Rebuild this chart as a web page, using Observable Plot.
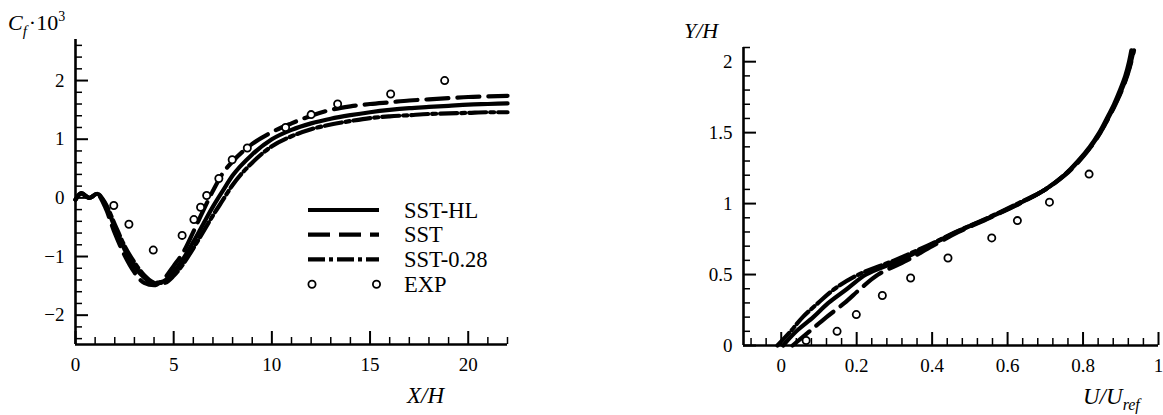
<!DOCTYPE html>
<html><head><meta charset="utf-8">
<script src="https://cdn.jsdelivr.net/npm/d3@7"></script>
<script src="https://cdn.jsdelivr.net/npm/@observablehq/plot@0.6"></script>
<style>
body{margin:0;background:#fff;}
#wrap{position:relative;width:1163px;height:415px;overflow:hidden;background:#fff;font-family:"Liberation Serif","Times New Roman",serif;}
#wrap > svg{position:absolute;top:0;}
#wrap svg text{font-family:"Liberation Serif","Times New Roman",serif;}
</style></head><body><div id="wrap"></div>
<script>
// ---------- Left panel: skin friction ----------
const xLeft   = [0,0.3,0.7,1.1,1.5,2,2.5,3,3.5,4,4.5,5,5.5,6,6.5,7,7.5,8,9,10,11,12,13,14,15,16,17,18,19,20,21,22];
const cfSSTHL = [-0.03,0.08,0.0,0.07,-0.1,-0.5,-0.88,-1.17,-1.36,-1.46,-1.42,-1.26,-1.03,-0.75,-0.45,-0.15,0.12,0.38,0.74,1.0,1.16,1.27,1.35,1.41,1.46,1.5,1.53,1.55,1.57,1.59,1.6,1.61];
const cfSST   = [-0.03,0.08,0.0,0.06,-0.15,-0.6,-0.98,-1.27,-1.45,-1.49,-1.38,-1.16,-0.92,-0.58,-0.22,0.12,0.42,0.62,0.92,1.12,1.27,1.4,1.5,1.56,1.6,1.63,1.66,1.68,1.7,1.72,1.73,1.74];
const cfSST028= [-0.03,0.07,0.0,0.07,-0.08,-0.45,-0.82,-1.1,-1.32,-1.44,-1.45,-1.33,-1.12,-0.86,-0.58,-0.3,-0.04,0.22,0.6,0.88,1.05,1.17,1.25,1.31,1.36,1.39,1.41,1.43,1.44,1.45,1.46,1.46];
const expXL   = [1.95,2.72,3.96,5.43,6.03,6.37,6.68,7.3,7.98,8.75,10.7,12.0,13.35,16.05,18.8];
const expCf   = [-0.13,-0.45,-0.89,-0.64,-0.37,-0.16,0.04,0.33,0.65,0.85,1.2,1.42,1.6,1.77,2.0];
const xMajorL = [0,5,10,15,20];
const xMinorL = [1,2,3,4,6,7,8,9,11,12,13,14,16,17,18,19,21,22];
const yMajorL = [-2,-1,0,1,2];
const yMinorL = [-2.4,-2.2,-1.8,-1.6,-1.4,-1.2,-0.8,-0.6,-0.4,-0.2,0.2,0.4,0.6,0.8,1.2,1.4,1.6,1.8,2.2,2.4,2.6];

// ---------- Right panel: velocity profile ----------
const yProf   = [0,0.1,0.2,0.3,0.4,0.5,0.6,0.7,0.8,0.9,1.0,1.1,1.2,1.3,1.4,1.5,1.6,1.7,1.8,1.9,2.0,2.08];
const uSSTHL  = [0.005,0.04,0.085,0.125,0.175,0.225,0.315,0.39,0.465,0.55,0.63,0.70,0.75,0.787,0.818,0.843,0.863,0.882,0.898,0.912,0.922,0.928];
const uSST    = [0.03,0.075,0.12,0.168,0.21,0.257,0.333,0.40,0.47,0.553,0.632,0.70,0.752,0.79,0.821,0.846,0.867,0.886,0.903,0.917,0.928,0.935];
const uSST028 = [-0.01,0.025,0.057,0.098,0.142,0.205,0.3,0.385,0.463,0.548,0.627,0.70,0.75,0.788,0.82,0.845,0.866,0.885,0.902,0.916,0.927,0.934];
const expU    = [0.066,0.148,0.199,0.268,0.343,0.442,0.558,0.626,0.711,0.816];
const expY    = [0.035,0.1,0.218,0.352,0.476,0.617,0.758,0.88,1.01,1.208];
const xMajorR = [0,0.2,0.4,0.6,0.8,1];
const xMinorR = [-0.08,-0.04,0.04,0.08,0.12,0.16,0.24,0.28,0.32,0.36,0.44,0.48,0.52,0.56,0.64,0.68,0.72,0.76,0.84,0.88,0.92,0.96];
const yMajorR = [0,0.5,1,1.5,2];
const yMinorR = [0.1,0.2,0.3,0.4,0.6,0.7,0.8,0.9,1.1,1.2,1.3,1.4,1.6,1.7,1.8,1.9,2.1];

const seriesNames = ["SST-HL","SST","SST-0.28","EXP"];
const dashes = {"SST-HL": null, "SST": "22,9", "SST-0.28": "17,4,4,4"};
const LW = 4.2;
const fmt = d => String(d).replace("-", "\u2212");

const wrap = document.getElementById("wrap");
const style = {fontFamily:'"Liberation Serif","Times New Roman",serif', fontSize:"19px", color:"black", background:"transparent", overflow:"visible"};

function axesMarks(xMaj, xMin, yMaj, yMin, x0, y0) {
  return [
    Plot.axisX({ticks:xMaj, tickSize:-13, tickPadding:26, strokeWidth:2, label:null, tickFormat:fmt}),
    Plot.axisX({ticks:xMin, tickSize:-7, strokeWidth:1.5, fill:"none", label:null}),
    Plot.axisY({ticks:yMaj, tickSize:-13, tickPadding:24, strokeWidth:2, label:null, tickFormat:fmt}),
    Plot.axisY({ticks:yMin, tickSize:-7, strokeWidth:1.5, fill:"none", label:null}),
    Plot.ruleX([x0], {stroke:"black", strokeWidth:2.6}),
    Plot.ruleY([y0], {stroke:"black", strokeWidth:2.6})
  ];
}

const leftSeries = [[cfSSTHL,"SST-HL"],[cfSST,"SST"],[cfSST028,"SST-0.28"]];
const left = Plot.plot({
  width:580, height:415, marginLeft:75, marginRight:73, marginTop:39, marginBottom:71,
  x:{domain:[0,22]}, y:{domain:[-2.5,2.7]},
  style,
  marks:[
    ...axesMarks(xMajorL, xMinorL, yMajorL, yMinorL, 0, -2.5),
    ...leftSeries.map(([vals,name]) => Plot.line(xLeft.map((x,i)=>({x, v:vals[i]})), {
      x:"x", y:"v", stroke:"black", strokeWidth:LW, curve:"monotone-x", strokeDasharray:dashes[name] || undefined
    })),
    Plot.dot(expXL.map((x,i)=>({x, v:expCf[i]})), {x:"x", y:"v", r:3.6, stroke:"black", strokeWidth:1.8, fill:"white"})
  ]
});
left.style.left = "0px";
wrap.appendChild(left);

const rightSeries = [[uSSTHL,"SST-HL"],[uSST,"SST"],[uSST028,"SST-0.28"]];
const right = Plot.plot({
  width:583, height:415, marginLeft:163, marginRight:5, marginTop:47, marginBottom:70,
  x:{domain:[-0.1,1]}, y:{domain:[0,2.1]},
  style,
  marks:[
    ...axesMarks(xMajorR, xMinorR, yMajorR, yMinorR, -0.1, 0),
    ...rightSeries.map(([vals,name]) => Plot.line(yProf.map((y,i)=>({u:vals[i], y})), {
      x:"u", y:"y", stroke:"black", strokeWidth:LW, curve:"catmull-rom", strokeDasharray:dashes[name] || undefined
    })),
    Plot.dot(expU.map((u,i)=>({u, y:expY[i]})), {x:"u", y:"y", r:3.6, stroke:"black", strokeWidth:1.8, fill:"white"})
  ]
});
right.style.left = "580px";
wrap.appendChild(right);

// ---------- overlay: legend and axis titles ----------
const ns = "http://www.w3.org/2000/svg";
const ov = document.createElementNS(ns, "svg");
ov.setAttribute("width", 1163); ov.setAttribute("height", 415);
ov.style.left = "0px";
ov.setAttribute("font-family", '"Liberation Serif","Times New Roman",serif');
let html = "";
const rowY = [210, 234.7, 259.4, 284.2];
seriesNames.forEach((name, i) => {
  const y = rowY[i];
  if (name === "EXP") {
    html += `<circle cx="312" cy="${y}" r="3.6" fill="white" stroke="black" stroke-width="1.8"/>`;
    html += `<circle cx="376.5" cy="${y}" r="3.6" fill="white" stroke="black" stroke-width="1.8"/>`;
  } else {
    html += `<line x1="308" x2="379" y1="${y}" y2="${y}" stroke="black" stroke-width="${LW}" ${dashes[name] ? `stroke-dasharray="${dashes[name]}"` : ""}/>`;
  }
  html += `<text x="404" y="${y + 7.5}" font-size="22.5">${name}</text>`;
});
html += `<text x="8" y="30" font-size="22"><tspan font-style="italic">C</tspan><tspan font-style="italic" font-size="15" dy="6">f</tspan><tspan dy="-6" dx="2">·10</tspan><tspan font-size="14" dy="-9">3</tspan></text>`;
html += `<text x="407" y="403" font-size="23" font-style="italic">X/H</text>`;
html += `<text x="684" y="38" font-size="22" font-style="italic">Y/H</text>`;
html += `<text x="1083" y="404" font-size="23" font-style="italic">U/U<tspan font-size="16" dy="6">ref</tspan></text>`;
ov.innerHTML = html;
wrap.appendChild(ov);
</script></body></html>
